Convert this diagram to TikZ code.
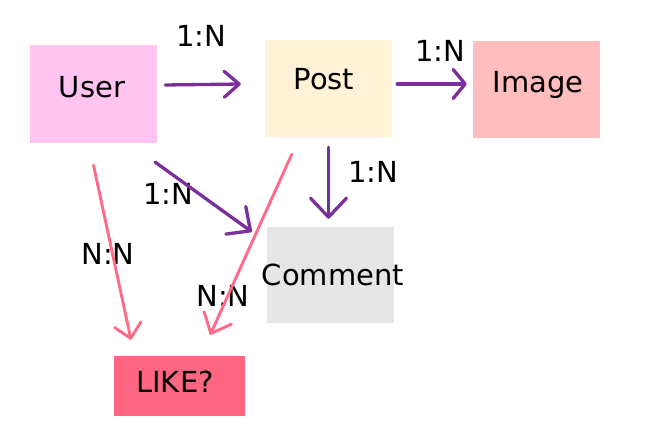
\documentclass[tikz,border=0pt]{standalone}
\usepackage{fontspec}
\setmainfont{DejaVu Sans}
\usetikzlibrary{arrows.meta}
\definecolor{userc}{HTML}{FFC5F0}
\definecolor{postc}{HTML}{FFF2D6}
\definecolor{imagec}{HTML}{FFBDBD}
\definecolor{commentc}{HTML}{E6E6E6}
\definecolor{likec}{HTML}{FF6681}
\definecolor{purp}{HTML}{7B2F9B}
\definecolor{pinkl}{HTML}{FF6A86}
\tikzset{
  box/.style={rectangle, inner sep=0pt, draw=none},
  txt/.style={anchor=base, inner sep=0pt, font=\fontsize{29}{34}\selectfont},
  parr/.style={draw=purp, line width=3.3pt, line cap=round, line join=round},
  karr/.style={draw=pinkl, line width=2.9pt, line cap=round, line join=round},
}
\begin{document}
\begin{tikzpicture}[x=1pt,y=-1pt]
\useasboundingbox (0,0) rectangle (652,443);
% boxes
\node[box, fill=userc, minimum width=127pt, minimum height=98pt] (user) at (93.5,94) {};
\node[box, fill=postc, minimum width=127pt, minimum height=97pt] (post) at (328.5,88.5) {};
\node[box, fill=imagec, minimum width=127pt, minimum height=97pt] (image) at (536.5,89.5) {};
\node[box, fill=commentc, minimum width=127pt, minimum height=96pt] (comment) at (330.5,275) {};
\node[box, fill=likec, minimum width=131pt, minimum height=60pt] (like) at (179.5,386) {};
% box texts
\node[txt] (usert) at (92,98) {User};
\node[txt] (postt) at (324,90) {Post};
\node[txt] (imaget) at (538,93) {Image};
\node[txt] (commentt) at (333,285) {Comment};
\node[txt] (liket) at (175,392) {LIKE?};
% labels
\node[txt] (l1) at (201,47) {1:N};
\node[txt] (l2) at (440,62) {1:N};
\node[txt] (l3) at (168,205) {1:N};
\node[txt] (l4) at (373,183) {1:N};
\node[txt] (l5) at (108,265) {N:N};
\node[txt] (l6) at (223,306) {N:N};
% connectors
\draw[parr, -{Straight Barb[length=15pt,width=26pt,round]}]
  ([yshift=9pt]user.east) ++(8,0) -- ([yshift=4.5pt,xshift=-24pt]post.west);
\draw[parr, -{Straight Barb[length=12pt,width=29pt,round]}]
  ([yshift=4.5pt,xshift=5pt]post.east) -- ([yshift=5.5pt,xshift=-6pt]image.west);
\draw[parr, -{Straight Barb[length=19pt,width=36pt,round]}]
  ([yshift=-10pt]post.south) -- ([yshift=8pt]post.south |- comment.north);
\draw[parr, -{Straight Barb[length=18pt,width=34pt,round]}]
  ([xshift=-2pt,yshift=-19pt]user.south east) -- ([xshift=-15pt,yshift=-5pt]comment.north west);
\draw[karr, -{Straight Barb[length=14pt,width=27pt,round]}]
  ([yshift=-22pt]user.south) -- ([xshift=-48.5pt,yshift=16pt]like.north);
\draw[karr, -{Straight Barb[length=17pt,width=30pt,round]}]
  ([xshift=27pt,yshift=-17pt]post.south west) -- ([xshift=-35pt,yshift=21pt]like.north east);
\end{tikzpicture}
\end{document}
